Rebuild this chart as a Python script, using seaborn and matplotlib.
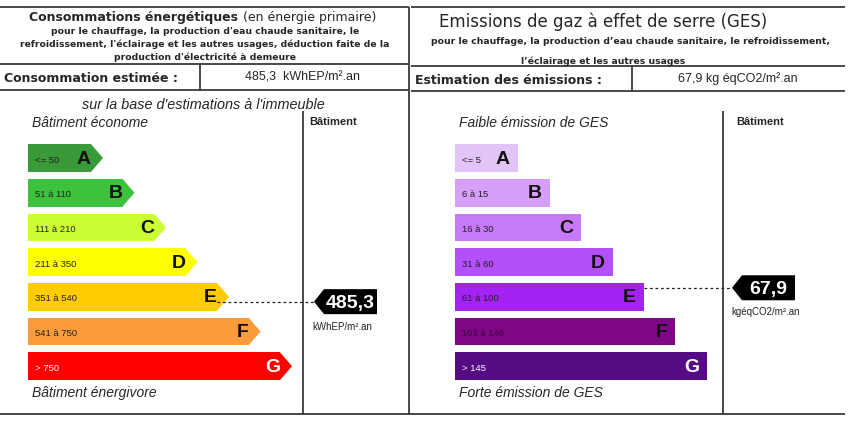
import matplotlib
matplotlib.use("Agg")
import matplotlib.pyplot as plt
import seaborn as sns
import pandas as pd
from matplotlib.patches import Polygon

# classes and their thresholds
classes = ["A", "B", "C", "D", "E", "F", "G"]
bar_len = [2, 3, 4, 5, 6, 7, 8]

energy_ranges = ["<= 50", "51 à 110", "111 à 210", "211 à 350", "351 à 540", "541 à 750", "> 750"]
energy_limits = [50, 110, 210, 350, 540, 750]
energy_colors = ["#389a38", "#3dc23d", "#ccff33", "#ffff00", "#ffcc00", "#fb9b3b", "#ff0000"]
energy_text = ["#222222"] * 6 + ["#ffffff"]
energy_value = 485.3

ges_ranges = ["<= 5", "6 à 15", "16 à 30", "31 à 60", "61 à 100", "101 à 145", "> 145"]
ges_limits = [5, 15, 30, 60, 100, 145]
ges_colors = ["#e3c4f8", "#d6a0f8", "#c67af7", "#b450fa", "#a423f3", "#7d0784", "#560a83"]
ges_text = ["#222222"] * 5 + ["#3a0340", "#ffffff"]
ges_value = 67.9

W, H = 850, 427
UNIT = 31.5     # px per length unit
PITCH = 34.7    # px per class row
FIRST_Y = 159   # px centre of class A

sns.set_theme(style="white")
plt.rcParams["font.family"] = ["Liberation Sans", "DejaVu Sans"]

fig = plt.figure(figsize=(W / 100, H / 100), dpi=100)
bg = fig.add_axes([0, 0, 1, 1])
bg.set_xlim(0, W)
bg.set_ylim(H, 0)
bg.axis("off")

LC = "#3a3a3a"
def hline(x0, x1, y):
    bg.plot([x0, x1], [y, y], color=LC, lw=1.3, solid_capstyle="butt")
def vline(x, y0, y1):
    bg.plot([x, x], [y0, y1], color=LC, lw=1.3, solid_capstyle="butt")

# frame lines
hline(0, 409, 8); hline(0, 409, 65); hline(0, 409, 91)
vline(200, 65, 91); vline(409, 8, 415)
hline(411, 845, 8); hline(411, 845, 67); hline(411, 845, 92)
vline(632, 67, 92)
hline(0, 845, 415)
vline(303, 112, 415); vline(723, 112, 415)

hdr = "DejaVu Sans"
sub = dict(family=hdr, weight="bold", fontsize=6.7, ha="center", va="center")

# left header
bg.text(238, 17, "Consommations énergétiques", family=hdr, weight="bold", fontsize=9, ha="right", va="center")
bg.text(243, 17, "(en énergie primaire)", family=hdr, fontsize=9, ha="left", va="center")
bg.text(205, 31, "pour le chauffage, la production d'eau chaude sanitaire, le", **sub)
bg.text(205, 44, "refroidissement, l'éclairage et les autres usages, déduction faite de la", **sub)
bg.text(205, 57, "production d'électricité à demeure", **sub)
bg.text(4, 79, "Consommation estimée :", family=hdr, weight="bold", fontsize=9, ha="left", va="center")
bg.text(303, 78, f"{energy_value:.1f}".replace(".", ",") + "  kWhEP/m².an", fontsize=9, ha="center", va="center")
bg.text(203, 105, "sur la base d'estimations à l'immeuble", style="italic", fontsize=10.4, ha="center", va="center")

# right header
bg.text(603, 22, "Emissions de gaz à effet de serre (GES)", family=hdr, fontsize=12, ha="center", va="center")
bg.text(631, 42, "pour le chauffage, la production d’eau chaude sanitaire, le refroidissement,", **sub)
bg.text(603, 61, "l’éclairage et les autres usages", **sub)
bg.text(415, 80, "Estimation des émissions :", family=hdr, weight="bold", fontsize=9, ha="left", va="center")
bg.text(738, 79, f"{ges_value:.1f}".replace(".", ",") + " kg éqCO2/m².an", fontsize=9, ha="center", va="center")

# chart captions
cap = dict(style="italic", fontsize=10, ha="left", va="center")
bg.text(32, 123, "Bâtiment économe", **cap)
bg.text(32, 393, "Bâtiment énergivore", **cap)
bg.text(459, 123, "Faible émission de GES", **cap)
bg.text(459, 393, "Forte émission de GES", **cap)
bg.text(309, 122, "Bâtiment", weight="bold", fontsize=8, ha="left", va="center")
bg.text(736, 122, "Bâtiment", weight="bold", fontsize=8, ha="left", va="center")


def label_chart(x0, ranges, colors, txt_colors, limits, value, unit, arrow_tips,
                letter_off, dot_off, arrow_px, unit_px, unit_dy):
    top = FIRST_Y - PITCH / 2
    ax = fig.add_axes([x0 / W, 1 - (top + 7 * PITCH) / H, 420 / W, 7 * PITCH / H])
    df = pd.DataFrame({"cls": classes, "len": bar_len})
    sns.barplot(data=df, x="len", y="cls", hue="cls", palette=colors, orient="h",
                width=0.8, saturation=1, linewidth=0, legend=False, ax=ax)
    ax.set_xlim(0, 420 / UNIT)
    ax.set_ylim(6.5, -0.5)
    ax.axis("off")

    tip = 12 / UNIT
    for i, p in enumerate(ax.patches[:7]):
        xe = p.get_x() + p.get_width()
        y, h = p.get_y(), p.get_height()
        if arrow_tips:
            ax.add_patch(Polygon([(xe, y), (xe + tip, y + h / 2), (xe, y + h)],
                                 closed=True, facecolor=p.get_facecolor(), lw=0))
        ax.text(7 / UNIT, y + h / 2 + 0.03, ranges[i], fontsize=6.8, color=txt_colors[i],
                ha="left", va="center")
        ax.text(xe + letter_off, y + h / 2, classes[i], fontsize=14, weight="bold",
                color=txt_colors[i] if i == 6 else "#111111", ha="right", va="center")

    # indicator
    idx = sum(value > lim for lim in limits)
    xe = bar_len[idx]
    yc = idx + dot_off
    xl = (arrow_px[0] - x0) / UNIT
    xr = (arrow_px[1] - x0) / UNIT
    notch = 10 / UNIT
    hh = 12.5 / PITCH
    ax.plot([xe, xl], [yc, yc], color="#222222", lw=0.9, ls=(0, (2.2, 2.2)))
    ax.add_patch(Polygon([(xl, yc), (xl + notch, yc - hh), (xr, yc - hh),
                          (xr, yc + hh), (xl + notch, yc + hh)],
                         closed=True, facecolor="black", lw=0, clip_on=False))
    ax.text((xl + notch + xr) / 2, yc + 0.02, f"{value:.1f}".replace(".", ","),
            fontsize=14, weight="bold", color="white", ha="center", va="center")
    ax.text((unit_px - x0) / UNIT, idx + unit_dy, unit, fontsize=7, color="#222222",
            ha="center", va="center")
    return ax


label_chart(28, energy_ranges, energy_colors, energy_text, energy_limits, energy_value,
            "kWhEP/m².an", True, 0.0, 0.14, (314, 377), 342, 0.85)
label_chart(455, ges_ranges, ges_colors, ges_text, ges_limits, ges_value,
            "kgéqCO2/m².an", False, -8 / UNIT, -0.26, (732, 795), 766, 0.42)

fig.savefig("out.png", dpi=100, facecolor="white")
